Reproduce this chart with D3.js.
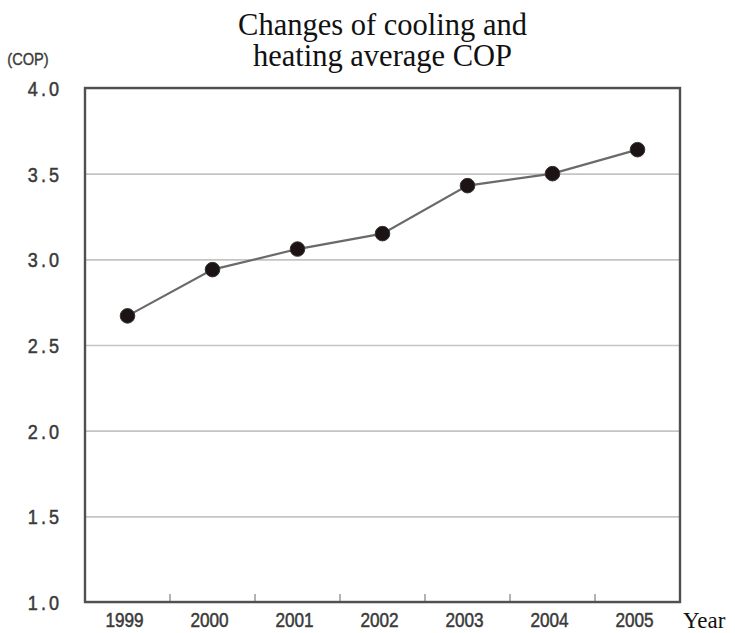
<!DOCTYPE html>
<html>
<head>
<meta charset="utf-8">
<script src="https://cdn.jsdelivr.net/npm/d3@7"></script>
<style>
  html, body { margin: 0; padding: 0; background: #fff; }
  svg { display: block; }
</style>
</head>
<body>
<svg id="chart" width="735" height="633"></svg>
<script>
// ---- data ----
const years = ["1999", "2000", "2001", "2002", "2003", "2004", "2005"];
const cop = [2.67, 2.94, 3.06, 3.15, 3.43, 3.50, 3.64];
const yTicks = [1.0, 1.5, 2.0, 2.5, 3.0, 3.5, 4.0];
const titleLines = ["Changes of cooling and", "heating average COP"];
const yUnit = "(COP)";
const xUnit = "Year";

// ---- layout ----
const W = 735, H = 633;
const margin = { top: 88, right: 55, bottom: 31, left: 85 };
const iw = W - margin.left - margin.right;
const ih = H - margin.top - margin.bottom;

const svg = d3.select("#chart");
const g = svg.append("g").attr("transform", `translate(${margin.left},${margin.top})`);

const x = d3.scaleBand().domain(years).range([0, iw]).padding(0);
const y = d3.scaleLinear().domain([1, 4]).range([ih, 0]);

const sx = 0.86; // horizontal condensing of the gothic-style labels
const labelFont = "'Liberation Sans', Arial, sans-serif";

// grid + y labels
const yAxis = g.append("g")
  .call(d3.axisLeft(y).tickValues(yTicks).tickSize(-iw).tickPadding(26).tickFormat(d3.format(".1f")));
yAxis.select(".domain").remove();
yAxis.selectAll(".tick line")
  .attr("stroke", "#c4c4c4").attr("stroke-width", 1.6);
yAxis.selectAll(".tick text")
  .attr("font-family", labelFont)
  .attr("font-size", 21)
  .attr("fill", "#3a3a3a")
  .attr("stroke", "#3a3a3a").attr("stroke-width", 0.5)
  .attr("letter-spacing", 3.5)
  .attr("x", -23 / sx)
  .attr("dy", "0.36em")
  .attr("transform", `scale(${sx},1)`);

// x labels
const xAxis = g.append("g").attr("transform", `translate(0,${ih})`)
  .call(d3.axisBottom(x).tickSize(0).tickPadding(11));
xAxis.select(".domain").remove();
xAxis.selectAll(".tick text")
  .attr("font-family", labelFont)
  .attr("font-size", 20)
  .attr("fill", "#3a3a3a")
  .attr("stroke", "#3a3a3a").attr("stroke-width", 0.5)
  .attr("transform", `translate(-3,0) scale(${sx},1)`);

// inner boundary ticks on the bottom axis
g.append("g").selectAll("line")
  .data(years.slice(1))
  .join("line")
  .attr("x1", d => x(d)).attr("x2", d => x(d))
  .attr("y1", ih).attr("y2", ih - 8)
  .attr("stroke", "#9a9a9a").attr("stroke-width", 1.5);

// frame
g.append("rect")
  .attr("x", 0).attr("y", 0).attr("width", iw).attr("height", ih)
  .attr("fill", "none").attr("stroke", "#505050").attr("stroke-width", 2.4);

// line
const pts = years.map((yr, i) => ({ yr, v: cop[i] }));
const line = d3.line().x(d => x(d.yr) + x.bandwidth() / 2).y(d => y(d.v));
g.append("path").datum(pts)
  .attr("d", line)
  .attr("fill", "none").attr("stroke", "#6a6a6a").attr("stroke-width", 2.2);

g.append("g").selectAll("circle")
  .data(pts)
  .join("circle")
  .attr("cx", d => x(d.yr) + x.bandwidth() / 2)
  .attr("cy", d => y(d.v))
  .attr("r", 7.3)
  .attr("fill", "#1c1414")
  .attr("stroke", "#3a3030").attr("stroke-width", 1);

// title
const title = svg.append("text")
  .attr("x", margin.left + iw / 2)
  .attr("text-anchor", "middle")
  .attr("font-family", "'Liberation Serif', 'Times New Roman', serif")
  .attr("font-size", 30.5)
  .attr("fill", "#111");
title.selectAll("tspan").data(titleLines).join("tspan")
  .attr("x", margin.left + iw / 2)
  .attr("y", (d, i) => 35 + i * 31)
  .text(d => d);

// unit labels
svg.append("text")
  .attr("x", 28 / sx).attr("y", 65)
  .attr("text-anchor", "middle")
  .attr("transform", `scale(${sx},1)`)
  .attr("font-family", labelFont)
  .attr("font-size", 17)
  .attr("fill", "#3a3a3a")
  .attr("stroke", "#3a3a3a").attr("stroke-width", 0.4)
  .text(yUnit);

svg.append("text")
  .attr("x", 683).attr("y", 628)
  .attr("font-family", "'Liberation Serif', 'Times New Roman', serif")
  .attr("font-size", 23)
  .attr("fill", "#111")
  .text(xUnit);
</script>
</body>
</html>
